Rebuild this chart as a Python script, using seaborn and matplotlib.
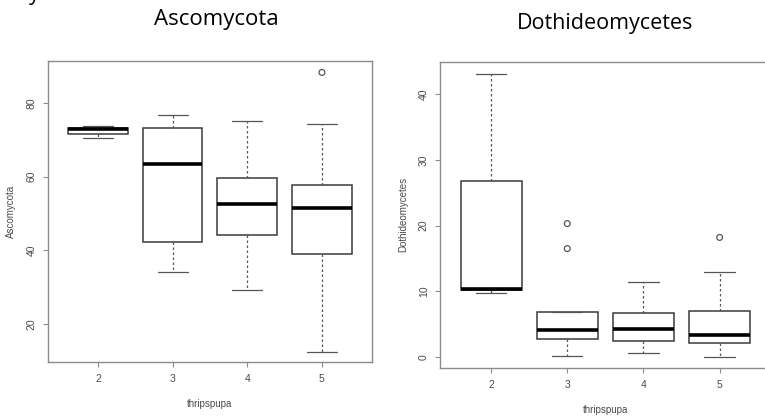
import matplotlib
matplotlib.use("Agg")
import matplotlib.pyplot as plt
import seaborn as sns
import pandas as pd

# ---------------- data ----------------
groups = ["2", "3", "4", "5"]

asco_lower = [70.4, 34.1, 29.2, 12.5]
asco_q1 = [71.6, 42.2, 44.3, 38.9]
asco_median = [72.9, 63.5, 52.7, 51.4]
asco_q3 = [73.3, 73.1, 59.6, 57.8]
asco_upper = [73.7, 76.8, 75.0, 74.2]
asco_out_group = ["5"]
asco_out_value = [88.3]

doth_lower = [9.8, 0.15, 0.6, 0.0]
doth_q1 = [10.2, 2.7, 2.4, 2.2]
doth_median = [10.4, 4.1, 4.3, 3.4]
doth_q3 = [26.8, 6.9, 6.7, 7.0]
doth_upper = [43.1, 6.9, 11.4, 12.9]
doth_out_group = ["3", "3", "5"]
doth_out_value = [20.3, 16.5, 18.2]

asco_ticks = [20, 40, 60, 80]
doth_ticks = [0, 10, 20, 30, 40]

titles = ["Ascomycota", "Dothideomycetes"]
xlabel = "thripspupa"


def summary_frame(lo, q1, med, q3, hi):
    rows = []
    for g, a, b, c, d, e in zip(groups, lo, q1, med, q3, hi):
        for v in (a, b, c, d, e):
            rows.append({"group": g, "value": v})
    return pd.DataFrame(rows)


asco_df = summary_frame(asco_lower, asco_q1, asco_median, asco_q3, asco_upper)
doth_df = summary_frame(doth_lower, doth_q1, doth_median, doth_q3, doth_upper)

# ---------------- style ----------------
sns.set_theme(style="ticks")
plt.rcParams["font.family"] = ["Liberation Sans", "DejaVu Sans"]

fig = plt.figure(figsize=(7.65, 4.17), dpi=100)
ax1 = fig.add_axes([0.0627, 0.1319, 0.4235, 0.7218])
ax2 = fig.add_axes([0.5752, 0.1182, 0.4322, 0.7338])

line_c = "#3a3a3a"
frame_c = "#8c8c8c"
text_c = "#4a4a4a"


def draw(ax, df, og, ov, ylim, yticks, ylabel):
    sns.boxplot(
        data=df, x="group", y="value", order=groups, ax=ax,
        whis=(0, 100), width=0.8, color="white", linecolor=line_c,
        linewidth=1.1, fliersize=0,
        medianprops={"color": "black", "linewidth": 2.6},
        whiskerprops={"linestyle": (0, (2, 2)), "color": "#555555", "linewidth": 0.9},
        capprops={"color": "#555555", "linewidth": 0.9},
        boxprops={"edgecolor": line_c, "linewidth": 1.1},
    )
    n0 = len(ax.collections)
    sns.stripplot(x=og, y=ov, order=groups, ax=ax, jitter=False,
                  size=4.2, color="#555555", linewidth=0.9, zorder=5)
    for coll in ax.collections[n0:]:
        coll.set_facecolor("none")
        coll.set_edgecolor("#555555")
        coll.set_linewidth(0.9)
    ax.set_xlim(-0.67, 3.67)
    ax.set_ylim(*ylim)
    ax.set_yticks(yticks)
    ax.set_yticklabels([str(t) for t in yticks], rotation=90, va="center")
    ax.set_xlabel(xlabel, fontsize=7, color=text_c, labelpad=11)
    ax.set_ylabel(ylabel, fontsize=7, color=text_c, labelpad=8)
    ax.tick_params(axis="both", labelsize=7.5, colors=text_c, length=3.5,
                   width=0.8, color=frame_c)
    ax.tick_params(axis="x", pad=5)
    ax.tick_params(axis="y", pad=4.5)
    for s in ax.spines.values():
        s.set_visible(True)
        s.set_color(frame_c)
        s.set_linewidth(1.0)


draw(ax1, asco_df, asco_out_group, asco_out_value, (9.7, 91.4), asco_ticks, titles[0])
draw(ax2, doth_df, doth_out_group, doth_out_value, (-1.6, 44.9), doth_ticks, titles[1])

fig.text(216 / 765, 1 - 20 / 417, titles[0], ha="center", va="center",
         fontsize=16, family=["Open Sans", "DejaVu Sans"], color="black")
fig.text(605 / 765, 1 - 23 / 417, titles[1], ha="center", va="center",
         fontsize=15.5, family=["Open Sans", "DejaVu Sans"], color="black")
fig.text(29 / 765, 1.0, "y", ha="left", va="baseline",
         fontsize=15.5, family=["Open Sans", "DejaVu Sans"], color="black")

fig.savefig("out.png", dpi=100)
